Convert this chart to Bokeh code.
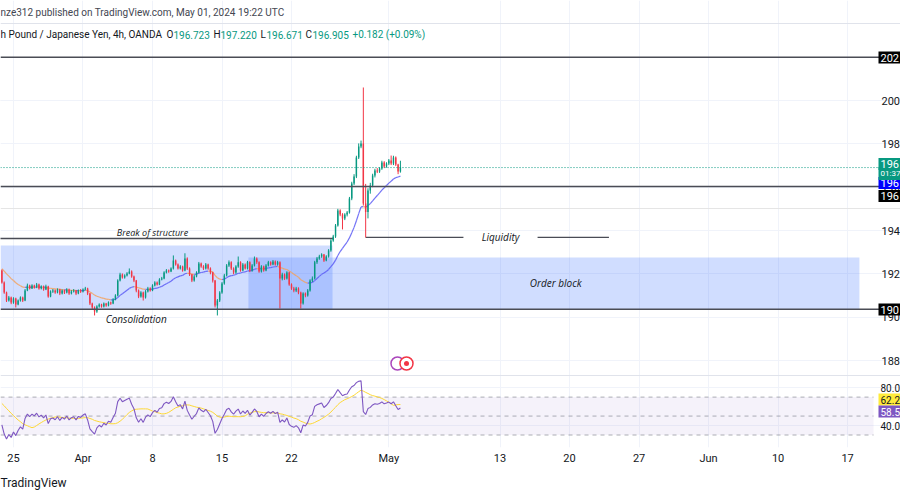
import numpy as np
from bokeh.plotting import figure
from bokeh.models import (Range1d, FixedTicker, Label, Span, BoxAnnotation,
                          ColumnDataSource, Grid, Title)
from bokeh.core.properties import value
from bokeh.embed import file_html
from bokeh.resources import INLINE

# ---------------- data (GBP/JPY, 4h, OANDA) ----------------
# bar index: Mar 25 00:00 = 0, 6 bars per trading day
bar_start = -5
first_open = 192.16
closes = [
    191.60, 191.14, 190.77, 190.91, 190.68, 190.86, 190.59, 190.77, 190.91, 190.77,
    191.23, 191.46, 191.33, 191.46, 191.37, 191.51, 191.33, 191.42, 191.28, 191.42,
    190.96, 191.19, 191.23, 191.14, 191.28, 191.09, 191.23, 191.14, 191.28, 191.09,
    191.19, 191.23, 191.09, 191.23, 191.19, 191.28, 191.33, 191.09, 190.63, 190.45,
    190.26, 190.49, 190.59, 190.49, 190.63, 190.54, 190.68, 190.63, 190.82, 191.00,
    191.69, 191.97, 191.83, 191.93, 192.02, 192.11, 191.88, 191.69, 191.23, 190.96,
    191.14, 190.91, 191.19, 191.33, 191.23, 191.46, 191.60, 191.51, 191.74, 191.79,
    192.06, 192.16, 192.11, 192.25, 192.62, 192.43, 192.25, 192.34, 192.16, 192.71,
    192.25, 191.97, 191.69, 191.88, 192.06, 192.48, 192.34, 192.25, 192.43, 192.25,
    192.06, 191.69, 190.54, 190.77, 191.14, 191.56, 191.93, 192.39, 192.53, 192.25,
    192.06, 192.34, 192.53, 192.16, 192.43, 192.25, 192.53, 192.16, 192.39, 192.71,
    192.53, 192.11, 192.34, 192.16, 192.39, 192.53, 192.43, 192.57, 192.43, 192.53,
    191.79, 191.97, 191.79, 192.06, 191.51, 191.33, 191.23, 191.33, 191.14, 190.63,
    191.09, 191.00, 191.23, 191.69, 191.79, 192.53, 192.71, 192.80, 192.89, 192.62,
    192.80, 193.08, 193.54, 193.72, 194.23, 194.92, 194.74, 194.56, 194.74, 194.83,
    195.48, 196.17, 196.49, 197.37, 197.88, 198.02, 195.25, 194.85, 195.85, 196.08,
    196.54, 196.77, 196.72, 196.86, 197.14, 196.95, 197.09, 197.23, 197.09, 197.37,
    197.05, 196.723, 196.905,
]
highs = [
    192.20, 191.65, 191.18, 190.98, 190.95, 190.92, 190.90, 190.82, 190.96, 190.95,
    191.30, 191.55, 191.50, 191.52, 191.50, 191.58, 191.55, 191.47, 191.46, 191.50,
    191.45, 191.24, 191.30, 191.28, 191.33, 191.31, 191.28, 191.27, 191.34, 191.32,
    191.25, 191.30, 191.26, 191.28, 191.30, 191.33, 191.40, 191.36, 191.12, 190.67,
    190.50, 190.55, 190.64, 190.62, 190.68, 190.66, 190.73, 190.72, 190.88, 191.06,
    191.75, 192.05, 192.02, 191.98, 192.08, 192.25, 192.16, 191.92, 191.72, 191.28,
    191.20, 191.18, 191.25, 191.40, 191.38, 191.52, 191.66, 191.65, 191.80, 191.86,
    192.12, 192.22, 192.20, 192.30, 192.85, 192.66, 192.48, 192.40, 192.38, 192.95,
    192.76, 192.30, 192.00, 191.95, 192.12, 192.55, 192.52, 192.40, 192.50, 192.47,
    192.30, 192.10, 191.72, 190.84, 191.20, 191.62, 192.00, 192.45, 192.62, 192.58,
    192.30, 192.40, 192.80, 192.58, 192.50, 192.48, 192.60, 192.58, 192.45, 192.80,
    192.76, 192.58, 192.40, 192.38, 192.45, 192.60, 192.58, 192.64, 192.62, 192.60,
    192.58, 192.05, 192.02, 192.12, 192.10, 191.56, 191.40, 191.40, 191.38, 191.18,
    191.15, 191.14, 191.30, 191.75, 191.88, 192.60, 192.78, 192.88, 192.95, 192.92,
    192.86, 193.14, 193.60, 193.80, 194.30, 195.00, 194.98, 194.80, 194.80, 194.90,
    195.55, 196.25, 196.60, 197.45, 198.02, 198.15, 200.60, 196.15, 195.95, 196.20,
    196.62, 196.85, 196.88, 196.92, 197.22, 197.20, 197.15, 197.30, 197.46, 197.45,
    197.42, 197.08, 197.220,
]
lows = [
    191.55, 191.08, 190.70, 190.72, 190.60, 190.62, 190.45, 190.55, 190.72, 190.70,
    190.74, 191.20, 191.28, 191.30, 191.32, 191.34, 191.27, 191.28, 191.22, 191.25,
    190.90, 190.92, 191.12, 191.08, 191.10, 191.02, 191.05, 191.07, 191.10, 191.03,
    191.05, 191.14, 191.02, 191.06, 191.12, 191.14, 191.24, 191.02, 190.56, 190.38,
    190.08, 190.20, 190.44, 190.44, 190.45, 190.48, 190.50, 190.57, 190.60, 190.78,
    190.96, 191.65, 191.78, 191.78, 191.88, 191.98, 191.82, 191.62, 191.15, 190.88,
    190.90, 190.77, 190.86, 191.14, 191.18, 191.20, 191.42, 191.46, 191.48, 191.70,
    191.75, 192.02, 192.05, 192.08, 192.20, 192.38, 192.20, 192.20, 192.10, 192.12,
    192.18, 191.90, 191.62, 191.64, 191.84, 192.02, 192.28, 192.18, 192.20, 192.19,
    191.98, 191.60, 190.45, 190.08, 190.70, 191.08, 191.50, 191.88, 192.32, 192.18,
    191.98, 192.00, 192.28, 192.10, 192.12, 192.20, 192.20, 192.08, 192.10, 192.34,
    192.46, 192.05, 192.06, 192.10, 192.12, 192.34, 192.38, 192.40, 192.38, 192.38,
    190.40, 191.70, 191.72, 191.74, 191.45, 191.26, 191.15, 191.16, 191.06, 190.40,
    190.58, 190.92, 190.95, 191.18, 191.62, 191.74, 192.46, 192.65, 192.74, 192.55,
    192.58, 192.75, 193.02, 193.48, 193.66, 194.18, 194.66, 194.05, 194.48, 194.65,
    194.78, 195.40, 196.10, 196.42, 197.30, 197.80, 195.15, 193.68, 194.56, 195.70,
    196.00, 196.45, 196.65, 196.66, 196.80, 196.88, 196.90, 197.02, 197.02, 197.02,
    196.98, 196.60, 196.671,
]

date_tick_bars = [0, 30, 60, 90, 120, 162, 210, 240, 270, 300, 330, 360]
date_tick_labels = ["25", "Apr", "8", "15", "22", "May", "13", "20", "27", "Jun", "10", "17"]

price_ticks = [188, 190, 192, 194, 196, 198, 200, 202]
price_tick_labels = ["188", "190", "192", "194", "196", "198", "200", "202"]
rsi_ticks = [80, 40]
rsi_tick_labels = ["80.0", "40.0"]

# indicator settings (moving average on price, RSI 14 with its SMA)
ma_period = 20
ma_seed = 192.30
rsi_period = 14
rsi_seed_gain = 0.05
rsi_seed_loss = 0.03
rsi_ma_period = 14
rsi_ma_seed = 65.0
rsi_levels = [70, 50, 30]

# drawings on the chart (price levels, bar extents)
level_top = 202.0
level_mid = 196.03
level_bottom = 190.37
bos_level = 193.63
bos_end_bar = 138
liq_level = 193.68
liq_start_bar, liq_end_bar = 152, 257
consolidation = dict(right=137.7, bottom=190.36, top=193.31)
order_block = dict(left=101.4, right=365.1, bottom=190.36, top=192.76)
countdown_text = "01:37"

# ---------------- layout constants ----------------
W, H = 900, 500
BOTTOM = 53
FRAME_H = H - BOTTOM           # frame covers canvas rows 0..447
PX_PER_BAR = 2.317
X0 = -5.6
PX_PER_YEN = 21.67
SCALE_X = 876                  # left edge of the price-scale strip (px)

def px_to_bar(px):
    return X0 + px / PX_PER_BAR

def py_to_price(py):
    return 200 - (py - 100) / PX_PER_YEN

price_top = py_to_price(0)
price_bot = py_to_price(FRAME_H)
# RSI pane shares the frame: rsi v <-> price 185 + (v-40)*0.04375
RSI_PRICE_AT_40 = 185.0
RSI_PRICE_PER_UNIT = 0.04375
def price_to_rsi(pr):
    return 40 + (pr - RSI_PRICE_AT_40) / RSI_PRICE_PER_UNIT

GREEN = "#089981"
RED = "#f23645"
DARK = "#131722"
LINE = "#4a4c55"
GRID = "#f0f3fa"
FONT = "Roboto"

# ---------------- derived series ----------------
n = len(closes)
xb = np.arange(n) + bar_start
opens = [first_open] + closes[:-1]
colors = [GREEN if c >= o else RED for o, c in zip(opens, closes)]
top = [max(o, c) for o, c in zip(opens, closes)]
bot = [min(o, c) for o, c in zip(opens, closes)]
top = [t if t - b > 0.01 else b + 0.01 for t, b in zip(top, bot)]

k = 2 / (ma_period + 1)
ma, m = [], ma_seed
for c in closes:
    m = m + k * (c - m)
    ma.append(m)

ag, al, prev = rsi_seed_gain, rsi_seed_loss, first_open
rsi = []
for c in closes:
    d = c - prev
    prev = c
    ag = (ag * (rsi_period - 1) + max(d, 0)) / rsi_period
    al = (al * (rsi_period - 1) + max(-d, 0)) / rsi_period
    rsi.append(100 - 100 / (1 + ag / al) if al > 0 else 100.0)
hist = [rsi_ma_seed] * (rsi_ma_period - 1) + rsi
rsi_ma = [float(np.mean(hist[i:i + rsi_ma_period])) for i in range(n)]

# ---------------- figure ----------------
p = figure(width=W, height=H, output_backend="svg", toolbar_location=None,
           x_range=Range1d(px_to_bar(0), px_to_bar(W)),
           y_range=Range1d(price_bot, price_top),
           y_axis_location=None,
           min_border_left=0, min_border_right=0,
           min_border_top=0, min_border_bottom=BOTTOM)
p.extra_y_ranges = {"rsi": Range1d(price_to_rsi(price_bot), price_to_rsi(price_top))}
p.outline_line_color = None
p.background_fill_color = "white"
p.border_fill_color = "white"

xax = p.xaxis[0]
xax.ticker = FixedTicker(ticks=date_tick_bars)
xax.major_label_overrides = {b: s for b, s in zip(date_tick_bars, date_tick_labels)}
xax.axis_line_color = None
xax.major_tick_line_color = None
xax.minor_tick_line_color = None
xax.major_tick_out = 0
xax.major_label_standoff = 4
xax.major_label_text_font_size = "11px"
xax.major_label_text_color = DARK
xax.major_label_text_font = FONT

p.xgrid.ticker = FixedTicker(ticks=date_tick_bars)
p.xgrid.grid_line_color = GRID
scale_left = px_to_bar(SCALE_X)
p.add_layout(Grid(dimension=1, ticker=FixedTicker(ticks=price_ticks),
                  grid_line_color=GRID, bounds=(px_to_bar(0), scale_left)))
p.add_layout(Grid(dimension=1, ticker=FixedTicker(ticks=rsi_ticks), y_range_name="rsi",
                  grid_line_color=GRID, bounds=(px_to_bar(0), scale_left)))

# footer
p.add_layout(Title(text="TradingView", align="left", text_font=FONT,
                   text_font_size="12px", text_font_style="normal",
                   text_color=DARK, offset=0, standoff=12), "below")

# pane separators
p.add_layout(Span(location=py_to_price(23), dimension="width", line_color="#e0e3eb", line_width=1))
p.add_layout(Span(location=py_to_price(375), dimension="width", line_color="#e0e3eb", line_width=1))

# boxes (drawings)
p.add_layout(BoxAnnotation(right=consolidation["right"], bottom=consolidation["bottom"],
                           top=consolidation["top"], fill_color="#2962ff", fill_alpha=0.22,
                           line_color=None, level="underlay"))
p.add_layout(BoxAnnotation(left=order_block["left"], right=order_block["right"],
                           bottom=order_block["bottom"], top=order_block["top"],
                           fill_color="#2962ff", fill_alpha=0.22, line_color=None, level="underlay"))

# RSI pane
p.add_layout(BoxAnnotation(right=px_to_bar(873), bottom=rsi_levels[-1], top=rsi_levels[0],
                           y_range_name="rsi", fill_color="#7e57c2",
                           fill_alpha=0.08, line_color=None, level="underlay"))
p.segment(x0=[px_to_bar(0)] * 3, y0=rsi_levels, x1=[px_to_bar(873)] * 3, y1=rsi_levels,
          y_range_name="rsi", line_color="#787b86", line_alpha=0.6,
          line_dash="4 4", line_width=1)
p.line(xb, rsi_ma, y_range_name="rsi", line_color="#fdd835", line_width=1)
p.line(xb, rsi, y_range_name="rsi", line_color="#7e57c2", line_width=1.1)

# horizontal levels
for lv in (level_top, level_mid, level_bottom):
    p.add_layout(Span(location=lv, dimension="width", line_color=LINE, line_width=1.5))
p.add_layout(Span(location=closes[-1], dimension="width", line_color=GREEN,
                  line_dash="1 2", line_width=1))
p.segment(x0=[px_to_bar(0) - 1], y0=[bos_level], x1=[bos_end_bar], y1=[bos_level],
          line_color=LINE, line_width=1.5)
liq_text_bar = 210.2
liq_gap = 16
p.segment(x0=[liq_start_bar, liq_text_bar + liq_gap], y0=[liq_level, liq_level],
          x1=[liq_text_bar - liq_gap, liq_end_bar], y1=[liq_level, liq_level],
          line_color=LINE, line_width=1.2)

# moving average, coloured by slope
ma_cols = ["#5b5bf5" if b >= a else "#f5a25d" for a, b in zip(ma[:-1], ma[1:])]
p.segment(x0=xb[:-1], y0=ma[:-1], x1=xb[1:], y1=ma[1:], line_color=ma_cols,
          line_width=1.2, line_alpha=0.85)

# candles
src = ColumnDataSource(dict(x=xb, h=highs, l=lows, top=top, bot=bot, color=colors))
p.segment(x0="x", y0="h", x1="x", y1="l", line_color="color", line_width=1, source=src)
p.vbar(x="x", width=0.62, top="top", bottom="bot", fill_color="color",
       line_color=None, source=src)

# event markers
ev_level = py_to_price(363)
p.scatter([px_to_bar(397)], [ev_level], size=13, marker="circle", fill_color="white",
          line_color="#ab47bc", line_width=1.5)
p.scatter([px_to_bar(406)], [ev_level], size=13, marker="circle", fill_color="white",
          line_color="#f23645", line_width=1.5)
p.scatter([px_to_bar(406)], [ev_level], size=5, marker="circle", fill_color="#f23645",
          line_color=None)

# drawing texts
def txt(x, y, s, size="10px"):
    p.add_layout(Label(x=x, y=y, text=s, text_font="Open Sans", text_font_size=size,
                       text_font_style="italic", text_color=DARK, text_align="center",
                       text_baseline="middle"))
txt(60, bos_level + 0.28, "Break of structure", "9px")
txt(liq_text_bar, liq_level, "Liquidity", "10px")
txt(234, 191.56, "Order block", "10px")
txt(53, 189.94, "Consolidation", "10px")

# header (inside the frame, screen units from frame bottom)
def hdr(x, py, s, color=DARK, size="10px"):
    p.add_layout(Label(x=x, y=FRAME_H - py, x_units="screen", y_units="screen", text=s,
                       text_font=FONT, text_font_size=size, text_color=color,
                       text_baseline="middle"))
hdr(0, 12, "nze312 published on TradingView.com, May 01, 2024 19:22 UTC", "#434651")
o_last, h_last, l_last, c_last = opens[-1], highs[-1], lows[-1], closes[-1]
chg = c_last - closes[-2]
hdr(0, 34, "h Pound / Japanese Yen, 4h, OANDA")
for xs, lab, xv, val in [(166, "O", 173, o_last), (213, "H", 220, h_last),
                         (260, "L", 266, l_last), (305, "C", 312, c_last)]:
    hdr(xs, 34, lab)
    hdr(xv, 34, f"{val:.3f}", GREEN)
hdr(352, 34, f"{chg:+.3f} ({chg / closes[-2] * 100:+.2f}%)", GREEN)

# price scale: tick labels
lab_x = px_to_bar(881)
p.text(x=[lab_x] * len(price_ticks), y=price_ticks, text=price_tick_labels,
       text_font=value(FONT), text_font_size="11px", text_color=DARK,
       text_baseline="middle")
p.text(x=[px_to_bar(880)] * len(rsi_ticks), y=rsi_ticks, text=rsi_tick_labels,
       y_range_name="rsi", text_font=value(FONT), text_font_size="10px",
       text_color=DARK, text_baseline="middle")

# price scale: value tags
tag_x = px_to_bar(878)
def tag(py, s, bg, fg="white", size="11px"):
    p.add_layout(Label(x=tag_x, y=py_to_price(py), text=s,
                       text_font=FONT, text_font_size=size, text_color=fg,
                       text_baseline="middle", background_fill_color=bg, padding=2))
tag(57, f"{level_top:.0f}", "#000000")
tag(309, f"{int(level_bottom)}", "#000000")
tag(195.5, f"{int(level_mid)}", "#000000")
tag(182.5, f"{int(ma[-1])}", "#0000ff")
tag(173, countdown_text, GREEN, size="8px")
tag(163.5, f"{int(c_last)}", GREEN)
tag(399, f"{rsi_ma[-1]:.1f}", "#ffeb3b", DARK, "10px")
tag(411, f"{rsi[-1]:.1f}", "#7e57c2", "white", "10px")

open("out.html", "w").write(file_html(p, INLINE))
